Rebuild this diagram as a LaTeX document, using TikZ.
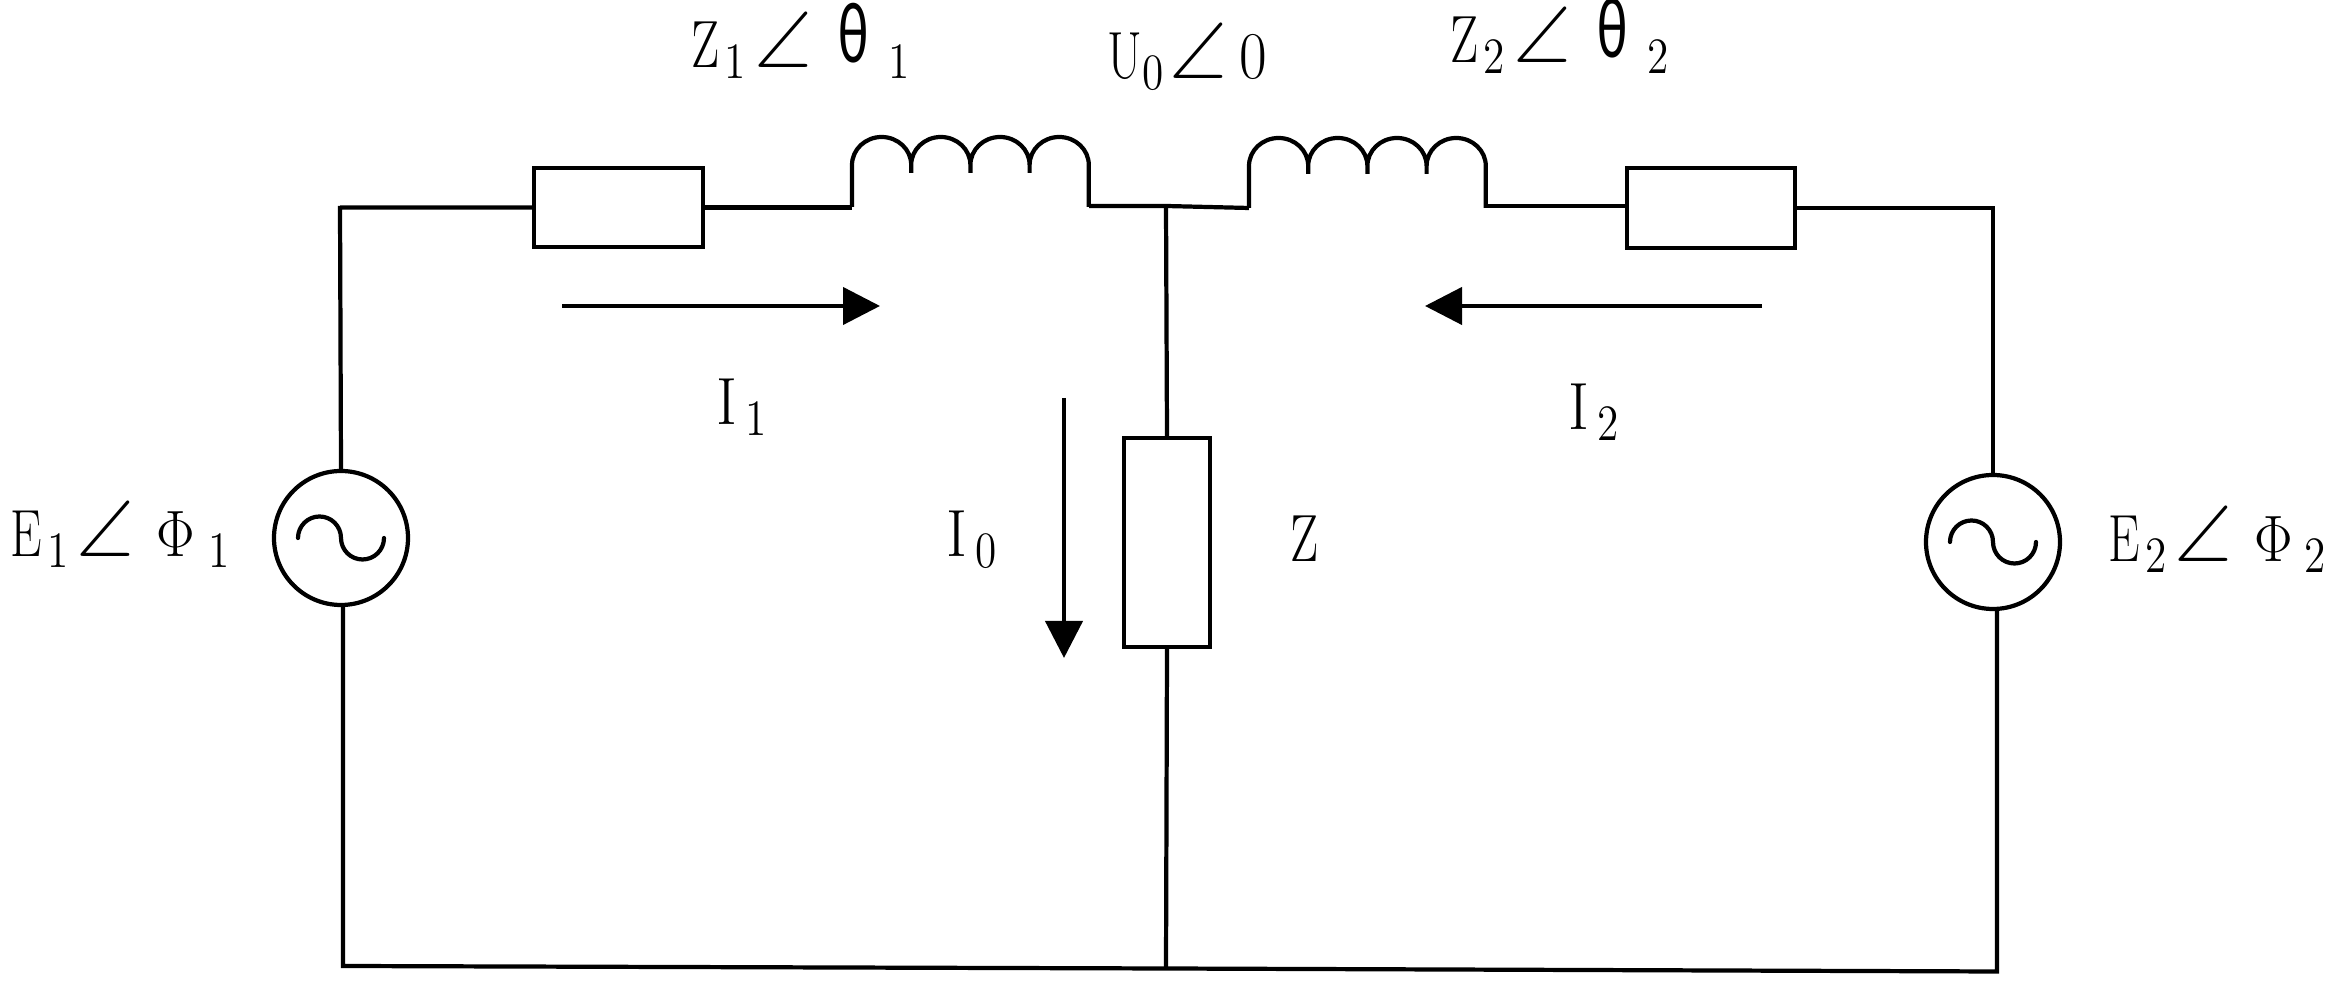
\documentclass[tikz,border=0pt]{standalone}
\usepackage{amsmath}
\usepackage{amssymb}
\usepackage{fontspec}
\usepackage{tikz}
\usetikzlibrary{arrows.meta}
\newfontfamily\grk{Carlito}
\newcommand{\cond}[1]{\scalebox{.75}[1]{#1}}
\newcommand{\subdig}[1]{\raisebox{-.11cm}{\scalebox{.85}[1]{\fontsize{14.5}{16}\selectfont #1}}}
\newcommand{\bigang}{\scalebox{1.2}{$\angle$}}
\newcommand{\curlab}[2]{\scalebox{.95}[1]{#1}\hspace{.08cm}\subdig{#2}}
\newcommand{\thetaup}{\raisebox{.05cm}{\scalebox{.85}[1.3]{\grk θ}}}
\newcommand{\phiup}{\scalebox{.95}[1.08]{$\Phi$}}
% letter, index, angle glyph, index, gap before and after the glyph
\newcommand{\polar}[6]{\cond{#1}\hspace{.05cm}\subdig{#2}\hspace{.08cm}\bigang\hspace{#5}#3\hspace{#6}\subdig{#4}}
\tikzset{
  wire/.style={line width=1.2pt},
  resbox/.style={draw, line width=1.2pt, inner sep=0pt, fill=white},
  source/.style={draw, circle, line width=1.2pt, inner sep=0pt, minimum size=1.34cm},
  current/.style={line width=1.2pt, -{Triangle[length=.37cm,width=.37cm]}},
  lab/.style={inner sep=0pt, anchor=base west, font=\fontsize{19}{23}\selectfont}
}
\begin{document}
\begin{tikzpicture}
  \useasboundingbox (0,0) rectangle (23.40,9.96);
  % corners and junctions
  \coordinate (tl) at (3.40,7.90);
  \coordinate (bl) at (3.43,0.30);
  \coordinate (tr) at (19.93,7.88);
  \coordinate (br) at (19.97,0.245);
  \coordinate (jt) at (11.66,7.90);
  \coordinate (jb) at (11.66,0.275);
  \coordinate (la) at (8.52,7.89);
  \coordinate (lb) at (10.89,7.90);
  \coordinate (ra) at (12.49,7.88);
  \coordinate (rb) at (14.85,7.90);
  % elements
  \node[resbox, minimum width=1.69cm, minimum height=.79cm] (r1) at (6.185,7.885) {};
  \node[resbox, minimum width=1.68cm, minimum height=.80cm] (r2) at (17.11,7.88) {};
  \node[resbox, minimum width=.86cm, minimum height=2.09cm] (rz) at (11.67,4.535) {};
  \node[source] (sl) at (3.41,4.58) {};
  \node[source] (sr) at (19.93,4.54) {};
  % coils
  \foreach \a in {la,ra} {
    \draw[wire, line join=round] (\a) -- ++(0,.42)
      arc[start angle=180, end angle=0, x radius=.296, y radius=.28] -- ++(0,-.08) ++(0,.08)
      arc[start angle=180, end angle=0, x radius=.296, y radius=.28] -- ++(0,-.08) ++(0,.08)
      arc[start angle=180, end angle=0, x radius=.296, y radius=.28] -- ++(0,-.08) ++(0,.08)
      arc[start angle=180, end angle=0, x radius=.296, y radius=.28] -- ++(0,-.42);
  }
  % sine in the sources
  \foreach \s in {sl,sr} {
    \draw[wire, line cap=round] (\s.center) ++(-.43,.0)
      arc[start angle=180, end angle=0, radius=.215]
      arc[start angle=180, end angle=360, radius=.215];
  }
  % wires
  \draw[wire] (r1.west) -- (r1.west -| tl) -- (tl) -- (sl.north);
  \draw[wire] (r1.east) -- (r1.east -| la);
  \draw[wire] (lb) -- (jt) -- (ra);
  \draw[wire] (rb) -- (rb -| r2.west);
  \draw[wire] (r2.east) -- (r2.east -| tr) -- (sr.north);
  \draw[wire] (jt) -- (rz.north);
  \draw[wire] (rz.south) -- (jb);
  \draw[wire] (sl.south -| bl) -- (bl) -- (jb) -- (br) -- (sr.south -| br);
  % currents
  \coordinate (i1a) at (5.62,6.90);
  \coordinate (i1b) at (8.80,6.90);
  \coordinate (i2a) at (17.62,6.90);
  \coordinate (i2b) at (14.25,6.90);
  \coordinate (i0a) at (10.64,5.98);
  \coordinate (i0b) at (10.64,3.38);
  \draw[current] (i1a) -- (i1b);
  \draw[current] (i2a) -- (i2b);
  \draw[current] (i0a) -- (i0b);
  % labels
  \node[lab] (z1) at (6.91,9.28) {\polar{Z}{1}{\thetaup}{1}{.26cm}{.20cm}};
  \node[lab] (u0) at (11.07,9.17) {\cond{U}\subdig{0}\hspace{.06cm}\bigang\hspace{.12cm}\scalebox{.9}[1]{0}};
  \node[lab] (z2) at (14.50,9.33) {\polar{Z}{2}{\thetaup}{2}{.26cm}{.20cm}};
  \node[lab] (e1) at (.10,4.39) {\polar{E}{1}{\phiup}{1}{.22cm}{.14cm}};
  \node[lab] (e2) at (21.08,4.34) {\polar{E}{2}{\phiup}{2}{.22cm}{.12cm}};
  \node[lab] (i1) at (7.16,5.71) {\curlab{I}{1}};
  \node[lab] (i2) at (15.68,5.66) {\curlab{I}{2}};
  \node[lab] (i0) at (9.46,4.39) {\curlab{I}{0}};
  \node[lab] (zz) at (12.90,4.34) {\cond{Z}};
\end{tikzpicture}
\end{document}
